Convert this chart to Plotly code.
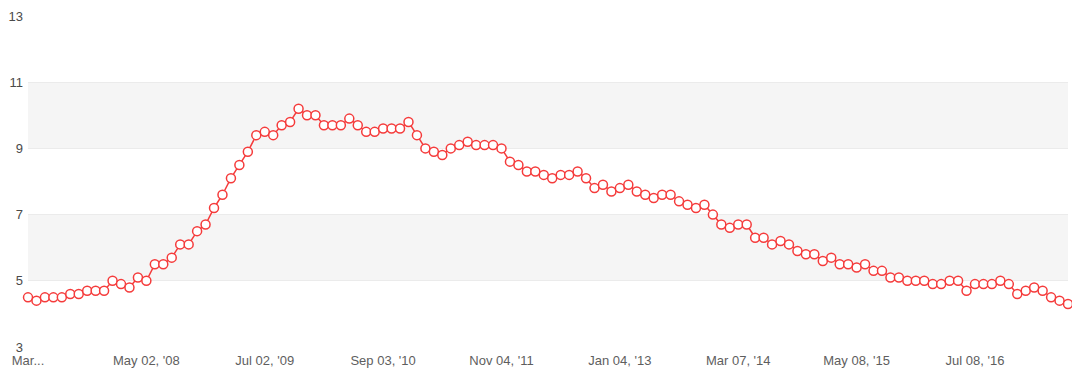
import plotly.graph_objects as go
import pandas as pd

# Reference month of each reported unemployment rate (Feb 2007 .. May 2017)
months = [d.strftime("%Y-%m") for d in pd.date_range("2007-02-01", periods=124, freq="MS")]

rates = [
    4.5, 4.4, 4.5, 4.5, 4.5, 4.6, 4.6, 4.7, 4.7, 4.7, 5.0,
    4.9, 4.8, 5.1, 5.0, 5.5, 5.5, 5.7, 6.1, 6.1, 6.5, 6.7, 7.2,
    7.6, 8.1, 8.5, 8.9, 9.4, 9.5, 9.4, 9.7, 9.8, 10.2, 10.0, 10.0,
    9.7, 9.7, 9.7, 9.9, 9.7, 9.5, 9.5, 9.6, 9.6, 9.6, 9.8, 9.4,
    9.0, 8.9, 8.8, 9.0, 9.1, 9.2, 9.1, 9.1, 9.1, 9.0, 8.6, 8.5,
    8.3, 8.3, 8.2, 8.1, 8.2, 8.2, 8.3, 8.1, 7.8, 7.9, 7.7, 7.8,
    7.9, 7.7, 7.6, 7.5, 7.6, 7.6, 7.4, 7.3, 7.2, 7.3, 7.0, 6.7,
    6.6, 6.7, 6.7, 6.3, 6.3, 6.1, 6.2, 6.1, 5.9, 5.8, 5.8, 5.6,
    5.7, 5.5, 5.5, 5.4, 5.5, 5.3, 5.3, 5.1, 5.1, 5.0, 5.0, 5.0,
    4.9, 4.9, 5.0, 5.0, 4.7, 4.9, 4.9, 4.9, 5.0, 4.9, 4.6, 4.7,
    4.8, 4.7, 4.5, 4.4, 4.3,
]

tick_labels = ["Mar...", "May 02, '08", "Jul 02, '09", "Sep 03, '10", "Nov 04, '11",
               "Jan 04, '13", "Mar 07, '14", "May 08, '15", "Jul 08, '16"]
tick_every = 14
y_ticks = [3, 5, 7, 9, 11, 13]
band_ranges = [(5, 7), (9, 11)]

RED = "#f53b3b"

fig = go.Figure()
fig.add_trace(go.Scatter(
    x=list(range(len(months))), y=rates, mode="lines+markers",
    customdata=months,
    line=dict(color=RED, width=1.5),
    marker=dict(symbol="circle", size=9, color="white", line=dict(color=RED, width=1.5)),
    cliponaxis=False,
    hovertemplate="%{customdata}: %{y}<extra></extra>",
))

for lo, hi in band_ranges:
    fig.add_shape(type="rect", xref="paper", yref="y", x0=0, x1=1, y0=lo, y1=hi,
                  fillcolor="#f5f5f5", line=dict(width=0), layer="below")

# The page body has an 8px margin, so the figure is sized/offset to fit the window.
fig.update_layout(
    width=1064, height=362,
    margin=dict(l=20, r=4, t=8, b=23),
    paper_bgcolor="white", plot_bgcolor="white",
    showlegend=False,
    font=dict(family="Liberation Sans, Arial, sans-serif"),
)
fig.update_xaxes(
    range=[0, len(months) - 1],
    tickvals=[i * tick_every for i in range(len(tick_labels))],
    ticktext=tick_labels,
    showgrid=False, zeroline=False, showline=False,
    tickfont=dict(size=13, color="#5e5e5e"),
    ticks="", ticklabelstandoff=4, automargin=False,
    ticklabeloverflow="allow",
)
fig.update_yaxes(
    range=[3, 13], tickvals=y_ticks,
    showgrid=True, gridcolor="#ebebeb", gridwidth=1,
    zeroline=False, showline=False,
    tickfont=dict(size=13, color="#4a4a4a"),
    ticks="", ticklabelstandoff=4, automargin=False,
    ticklabeloverflow="allow",
)

fig.write_html("out.html")
